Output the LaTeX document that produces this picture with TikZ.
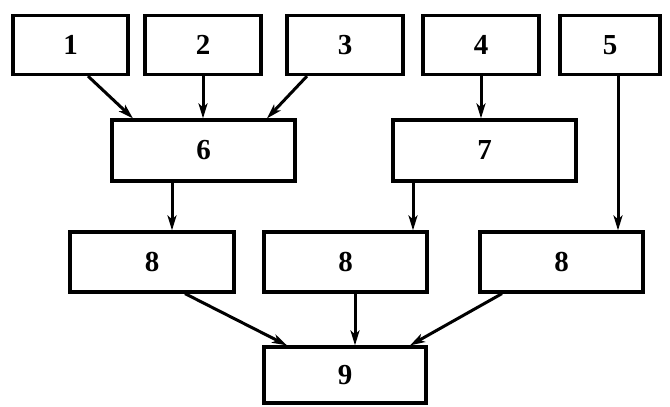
\documentclass[tikz,border=0pt]{standalone}
\usepackage{fontspec}
\setmainfont{Liberation Serif}
\usetikzlibrary{arrows.meta}
\begin{document}
\begin{tikzpicture}[x=1pt,y=-1pt,
  blk/.style={draw,line width=3.2pt,inner sep=0pt,font=\fontsize{29}{29}\selectfont\bfseries},
  arr/.style={line width=3pt,-{Stealth[length=15pt,width=9pt,inset=4pt]}}]
\useasboundingbox (0,0) rectangle (670,407);
\node[blk,minimum width=115pt,minimum height=59pt] (b1) at (70.5,45) {1};
\node[blk,minimum width=116pt,minimum height=59pt] (b2) at (203,45) {2};
\node[blk,minimum width=116pt,minimum height=59pt] (b3) at (345,45) {3};
\node[blk,minimum width=116pt,minimum height=59pt] (b4) at (481,45) {4};
\node[blk,minimum width=100pt,minimum height=59pt] (b5) at (610,45) {5};
\node[blk,minimum width=183pt,minimum height=61pt] (b6) at (203.5,150.5) {6};
\node[blk,minimum width=183pt,minimum height=61pt] (b7) at (484.5,150.5) {7};
\node[blk,minimum width=164pt,minimum height=60pt] (b8a) at (152,262) {8};
\node[blk,minimum width=163pt,minimum height=60pt] (b8b) at (345.5,262) {8};
\node[blk,minimum width=163pt,minimum height=60pt] (b8c) at (561.5,262) {8};
\node[blk,minimum width=162pt,minimum height=56pt] (b9) at (345,375) {9};
\draw[arr] ([xshift=17.5pt]b1.south) -- ([xshift=-70.5pt]b6.north);
\draw[arr] (b2.south) -- (b2.south |- b6.north);
\draw[arr] ([xshift=-38pt]b3.south) -- ([xshift=63.5pt]b6.north);
\draw[arr] (b4.south) -- (b4.south |- b7.north);
\draw[arr] ([xshift=8pt]b5.south) -- ([xshift=8pt]b5.south |- b8c.north);
\draw[arr] ([xshift=-31.5pt]b6.south) -- ([xshift=-31.5pt]b6.south |- b8a.north);
\draw[arr] ([xshift=-71.5pt]b7.south) -- ([xshift=-71.5pt]b7.south |- b8b.north);
\draw[arr] ([xshift=33pt]b8a.south) -- ([xshift=-58pt]b9.north);
\draw[arr] ([xshift=9.5pt]b8b.south) -- ([xshift=9.5pt]b8b.south |- b9.north);
\draw[arr] ([xshift=-59.5pt]b8c.south) -- ([xshift=65pt]b9.north);
\end{tikzpicture}
\end{document}
